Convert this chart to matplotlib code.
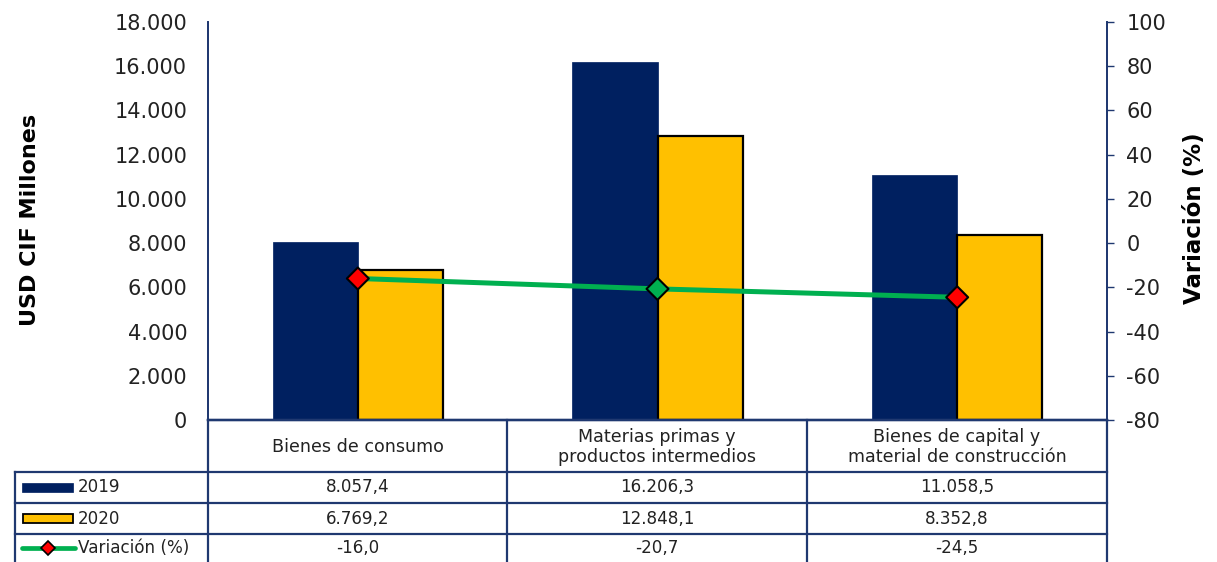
import matplotlib
matplotlib.use("Agg")
import matplotlib.pyplot as plt
from matplotlib.lines import Line2D
from matplotlib.patches import Rectangle

# ---------------- data ----------------
categories = ["Bienes de consumo",
              "Materias primas y\nproductos intermedios",
              "Bienes de capital y\nmaterial de construcción"]
values_2019 = [8057.4, 16206.3, 11058.5]
values_2020 = [6769.2, 12848.1, 8352.8]
variacion = [-16.0, -20.7, -24.5]
marker_colors = ["#FF0000", "#00B050", "#FF0000"]
series_names = ["2019", "2020", "Variación (%)"]
left_ticks = list(range(0, 18001, 2000))
right_ticks = list(range(-80, 101, 20))

NAVY = "#002060"
GOLD = "#FFC000"
GREEN = "#00B050"
LINEC = "#1F3870"
FONT = "DejaVu Sans"
plt.rcParams["font.family"] = [FONT]
plt.rcParams["axes.unicode_minus"] = False

W, H = 1217, 562
fig = plt.figure(figsize=(W / 100, H / 100), dpi=100)

def fx(px):
    return px / W

def fy(py):
    return 1 - py / H

ax = fig.add_axes([fx(208), fy(420), fx(1107) - fx(208), fy(22) - fy(420)])
ax2 = ax.twinx()

x = list(range(len(categories)))
bw = 0.284
ax.bar([i - bw / 2 for i in x], values_2019, width=bw, color=NAVY, edgecolor=NAVY,
       linewidth=0.5, zorder=2)
ax.bar([i + bw / 2 for i in x], values_2020, width=bw, color=GOLD, edgecolor="black",
       linewidth=1.6, zorder=2)
ax.set_xlim(-0.5, len(categories) - 0.5)
ax.set_ylim(0, 18000)
ax.set_yticks(left_ticks)
ax.set_yticklabels([f"{v:,}".replace(",", ".") for v in left_ticks])
ax.tick_params(axis="y", length=0, pad=15, labelsize=15, labelcolor="#222222")
ax.set_xticks([])

ax2.plot(x, variacion, color=GREEN, linewidth=3.6, zorder=3, solid_capstyle="round")
ax2.scatter(x, variacion, marker="D", s=125, c=marker_colors, edgecolors="black",
            linewidths=1.5, zorder=4)
ax2.set_ylim(-80, 100)
ax2.set_yticks(right_ticks)
ax2.tick_params(axis="y", length=5, width=1, color=LINEC, pad=9, labelsize=15,
                labelcolor="#222222", direction="out")

for a in (ax, ax2):
    a.spines["top"].set_visible(False)
    a.spines["left"].set_color(LINEC)
    a.spines["right"].set_color(LINEC)
    a.spines["bottom"].set_color(LINEC)
    a.spines["left"].set_linewidth(1.3)
    a.spines["right"].set_linewidth(1.3)
    a.spines["bottom"].set_linewidth(1.6)
    a.patch.set_visible(False)

fig.text(fx(30), fy(220), "USD CIF Millones", rotation=90, ha="center", va="center",
         fontsize=16, fontweight="bold", color="black")
fig.text(fx(1195), fy(218), "Variación (%)", rotation=90, ha="center", va="center",
         fontsize=16.5, fontweight="bold", color="black")

# ---------------- data table ----------------
ov = fig.add_axes([0, 0, 1, 1])
ov.set_xlim(0, W)
ov.set_ylim(H, 0)
ov.axis("off")
ov.patch.set_visible(False)

col_edges = [15, 208, 507, 807, 1107]
row_edges = [420, 472, 503, 534, 562]
lw = 1.6
for cx in col_edges[1:]:
    ov.add_line(Line2D([cx, cx], [420, 562], color=LINEC, lw=lw))
ov.add_line(Line2D([15, 15], [472, 562], color=LINEC, lw=lw))
ov.add_line(Line2D([208, 1107], [420, 420], color=LINEC, lw=lw))
for ry in row_edges[1:4]:
    ov.add_line(Line2D([15, 1107], [ry, ry], color=LINEC, lw=lw))

def fmt(v):
    s = f"{v:,.1f}"
    return s.replace(",", "X").replace(".", ",").replace("X", ".")

hsize = 12.6
tsize = 12.1
for j, cat in enumerate(categories):
    cx = (col_edges[j + 1] + col_edges[j + 2]) / 2
    ov.text(cx, 447, cat, ha="center", va="center", fontsize=hsize, color="#222222",
            linespacing=1.1)
    for r, series in enumerate([values_2019, values_2020, variacion]):
        cy = (row_edges[r + 1] + row_edges[r + 2]) / 2
        ov.text(cx, cy, fmt(series[j]), ha="center", va="center", fontsize=tsize,
                color="#222222")

for r, name in enumerate(series_names):
    cy = (row_edges[r + 1] + row_edges[r + 2]) / 2
    ov.text(78, cy, name, ha="left", va="center", fontsize=tsize, color="#222222")
ky = (row_edges[1] + row_edges[2]) / 2
ov.add_patch(Rectangle((22, ky - 4.5), 51, 9, facecolor=NAVY, edgecolor=NAVY, lw=0.5))
ky = (row_edges[2] + row_edges[3]) / 2
ov.add_patch(Rectangle((23, ky - 4.5), 50, 9, facecolor=GOLD, edgecolor="black", lw=1.3))
ky = (row_edges[3] + row_edges[4]) / 2
ov.add_line(Line2D([22, 75], [ky, ky], color=GREEN, lw=3.4, solid_capstyle="round"))
ov.plot([48], [ky], marker="D", markersize=7.5, markerfacecolor="#FF0000",
        markeredgecolor="black", markeredgewidth=1.2)

fig.savefig("out.png", dpi=100, facecolor="white")
